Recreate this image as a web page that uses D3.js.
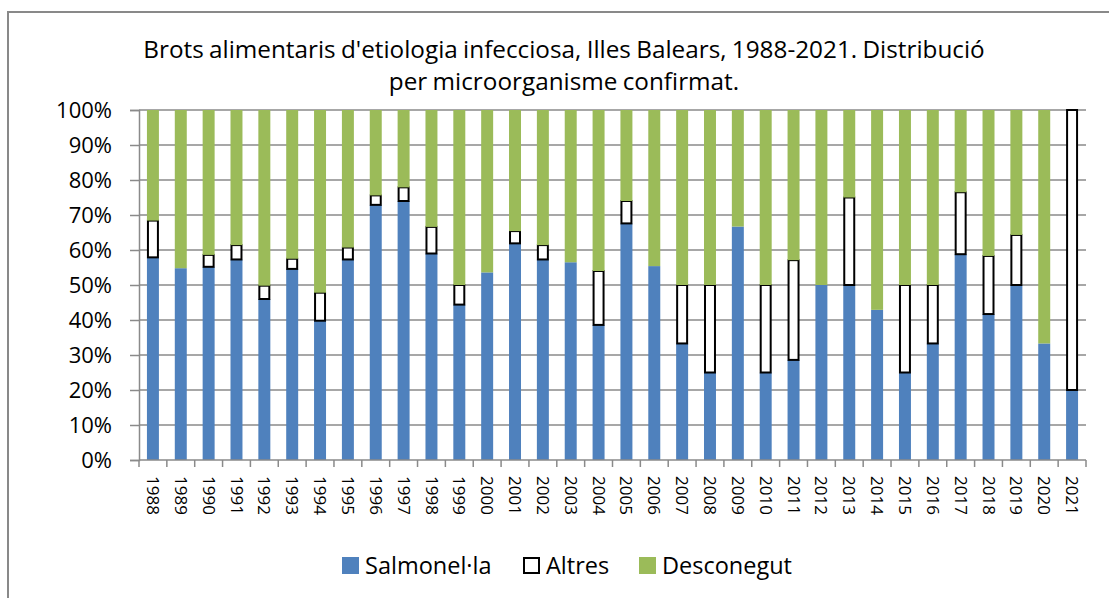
<!DOCTYPE html>
<html>
<head>
<meta charset="utf-8">
<script src="https://cdn.jsdelivr.net/npm/d3@7"></script>
<style>
  html, body { margin: 0; padding: 0; background: #fff; }
  svg { display: block; font-family: "Open Sans", sans-serif; }
</style>
</head>
<body>
<svg id="chart" width="1109" height="598"></svg>
<script>
const years = ["1988","1989","1990","1991","1992","1993","1994","1995","1996","1997","1998","1999","2000","2001","2002","2003","2004","2005","2006","2007","2008","2009","2010","2011","2012","2013","2014","2015","2016","2017","2018","2019","2020","2021"];
const salmonella = [57.9,54.8,55.2,57.3,46.0,54.6,39.8,57.3,72.9,74.0,59.0,44.4,53.6,61.9,57.3,56.5,38.6,67.6,55.4,33.3,25.0,66.7,25.0,28.6,50.0,50.0,42.9,25.0,33.3,58.8,41.7,50.0,33.3,20.0];
const altres     = [10.5,0,3.4,4.1,3.8,2.9,8.0,3.4,2.7,3.9,7.6,5.6,0,3.5,4.1,0,15.4,6.4,0,16.7,25.0,0,25.0,28.5,0,25.0,0,25.0,16.7,17.7,16.6,14.3,0,80.0];
const desconegut = years.map((d,i) => +(100 - salmonella[i] - altres[i]).toFixed(1));
const yTicks = [0,10,20,30,40,50,60,70,80,90,100];
const seriesNames = ["Salmonel·la","Altres","Desconegut"];
const titleLines = ["Brots alimentaris d'etiologia infecciosa, Illes Balears, 1988-2021. Distribució", "per microorganisme confirmat."];

const colors = {"Salmonel·la":"#4F81BD","Altres":"#FFFFFF","Desconegut":"#9BBB59"};

const svg = d3.select("#chart");
const m = {left:139, right:1086, top:110, bottom:460};

// outer frame (top and left edges visible)
svg.append("path").attr("d", "M8,598 L8,12 L1109,12").attr("fill","none").attr("stroke","#898989").attr("stroke-width",2);

const x = d3.scaleBand().domain(years).range([m.left, m.right]).paddingInner(0.57).paddingOuter(0.285);
const y = d3.scaleLinear().domain([0,100]).range([m.bottom, m.top]);

// gridlines
svg.append("g").selectAll("line").data(yTicks.filter(t=>t>0)).join("line")
  .attr("x1", m.left).attr("x2", m.right)
  .attr("y1", d=>y(d)).attr("y2", d=>y(d))
  .attr("stroke","#8a8a8a").attr("stroke-width",1.5);

// stacked data
const rows = years.map((yr,i)=>({year:yr, "Salmonel·la":salmonella[i], "Altres":altres[i], "Desconegut":desconegut[i]}));
const stack = d3.stack().keys(seriesNames)(rows);

stack.forEach(layer => {
  const key = layer.key;
  svg.append("g").selectAll("rect").data(layer.filter(d => d[1]-d[0] > 0)).join("rect")
    .attr("x", d => x(d.data.year) + (key==="Altres"?1:0))
    .attr("width", x.bandwidth() - (key==="Altres"?2:0))
    .attr("y", d => y(d[1]))
    .attr("height", d => y(d[0]) - y(d[1]))
    .attr("fill", colors[key])
    .attr("stroke", key==="Altres" ? "#000" : "none")
    .attr("stroke-width", key==="Altres" ? 2 : 0);
});

// y axis
const yAxis = d3.axisLeft(y).tickValues(yTicks).tickFormat(d=>d+"%").tickSize(9).tickPadding(18);
const gy = svg.append("g").attr("transform", `translate(${m.left},0)`).call(yAxis);
gy.select(".domain").attr("stroke","#8a8a8a").attr("stroke-width",1.5);
gy.selectAll(".tick line").attr("stroke","#8a8a8a").attr("stroke-width",1.5);
gy.selectAll(".tick text").attr("font-size",22).attr("fill","#000").attr("font-family","Open Sans").attr("dy","0.35em");

// x axis
const xb = d3.scaleLinear().domain([0, years.length]).range([m.left, m.right]);
const gx = svg.append("g");
gx.append("line").attr("x1",m.left).attr("x2",m.right).attr("y1",m.bottom).attr("y2",m.bottom).attr("stroke","#8a8a8a").attr("stroke-width",1.5);
gx.selectAll("line.t").data(d3.range(years.length+1)).join("line").attr("class","t")
  .attr("x1", d=>xb(d)).attr("x2", d=>xb(d)).attr("y1", m.bottom).attr("y2", m.bottom+7)
  .attr("stroke","#8a8a8a").attr("stroke-width",1.5);
gx.selectAll("text").data(years).join("text")
  .attr("transform", d => `translate(${x(d)+x.bandwidth()/2},476) rotate(90)`)
  .attr("dy","0.35em")
  .attr("font-size",17).attr("fill","#000")
  .text(d=>d);

// title
svg.append("g").selectAll("text").data(titleLines).join("text")
  .attr("x", 564).attr("y", (d,i)=>58 + i*32)
  .attr("text-anchor","middle").attr("font-size",24.3).attr("fill","#000")
  .attr("word-spacing", -1)
  .text(d=>d);

// legend
const legendItems = [
  {name:"Salmonel·la", sx:342, tx:365},
  {name:"Altres", sx:523, tx:546},
  {name:"Desconegut", sx:639, tx:662}
];
const lg = svg.append("g");
legendItems.forEach(it => {
  lg.append("rect").attr("x", it.sx + (it.name==="Altres"?1:0)).attr("y", 557 + (it.name==="Altres"?1:0))
    .attr("width", it.name==="Altres"?15:17).attr("height", it.name==="Altres"?15:17)
    .attr("fill", colors[it.name]).attr("stroke", it.name==="Altres"?"#000":"none").attr("stroke-width",2);
  lg.append("text").attr("x", it.tx).attr("y", 574).attr("font-size",23.5).attr("fill","#000").text(it.name);
});
</script>
</body>
</html>
